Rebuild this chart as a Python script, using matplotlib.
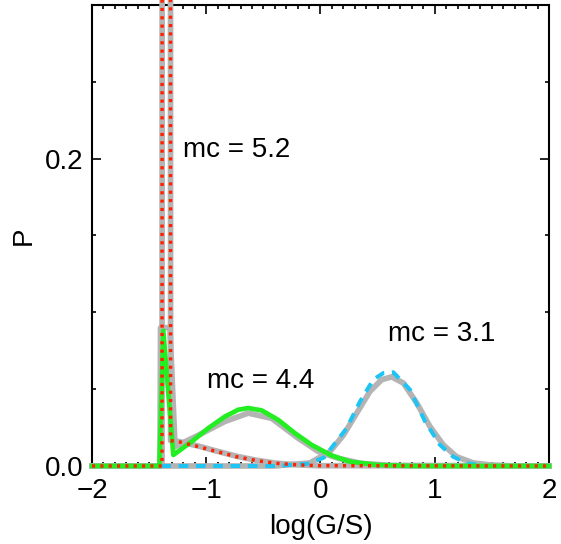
import matplotlib
matplotlib.use("Agg")
import matplotlib.pyplot as plt
from matplotlib.ticker import MultipleLocator, FormatStrFormatter

plt.rcParams['font.family'] = ['Liberation Sans', 'DejaVu Sans']

# model curves (gray)
gray52_x = [-2, -1.387, -1.386, -1.313, -1.312, -1.245, -1.07, -0.909, -0.733, -0.558, -0.398,
            -0.194, -0.02, 2]
gray52_y = [0, 0, 0.45, 0.45, 0.0165, 0.016, 0.013, 0.0097, 0.0063, 0.0037, 0.0019,
            0.0007, 0.0002, 0]

gray44_x = [-2, -1.405, -1.40, -1.318, -1.273, -1.07, -0.836, -0.632, -0.427, -0.194, -0.019,
            0.156, 0.35, 0.6, 2]
gray44_y = [0, 0, 0.09, 0.09, 0.0126, 0.020, 0.029, 0.0344, 0.031, 0.018, 0.0094,
            0.005, 0.0018, 0.0004, 0]

gray31_x = [-2, -0.4, -0.092, 0.083, 0.2, 0.317, 0.433, 0.536, 0.623, 0.725, 0.842, 0.958,
            1.075, 1.192, 1.337, 1.483, 1.7, 2]
gray31_y = [0, 0, 0.002, 0.0094, 0.020, 0.0344, 0.0486, 0.0562, 0.058, 0.054, 0.041, 0.0257,
            0.0137, 0.006, 0.002, 0.0007, 0, 0]

# data curves
green_x = [-2, -1.41, -1.376, -1.288, -1.127, -0.982, -0.836, -0.72, -0.632, -0.515, -0.37,
           -0.223, -0.077, 0.098, 0.258, 0.49, 0.8, 2]
green_y = [0, 0, 0.088, 0.0072, 0.0159, 0.0246, 0.0322, 0.0366, 0.0377, 0.0362, 0.030,
           0.0213, 0.0137, 0.0068, 0.0028, 0.0007, 0, 0]

cyan_x = [-2, -0.4, -0.1, 0.03, 0.083, 0.229, 0.346, 0.462, 0.55, 0.637, 0.783, 0.915,
          1.046, 1.162, 1.28, 1.45, 2]
cyan_y = [0, 0, 0.0015, 0.0055, 0.0105, 0.0246, 0.042, 0.0562, 0.0605, 0.061, 0.0497, 0.029,
          0.0137, 0.006, 0.0018, 0, 0]

red_x = [-2, -1.387, -1.386, -1.313, -1.312, -1.245, -1.07, -0.909, -0.733, -0.558, -0.398,
         -0.194, -0.02, 2]
red_y = [0, 0, 0.45, 0.45, 0.0165, 0.0159, 0.0126, 0.0094, 0.006, 0.0035, 0.0018,
         0.0007, 0.0002, 0]

labels = ['mc = 5.2', 'mc = 4.4', 'mc = 3.1']
label_x = [-1.203, -0.996, 0.591]
label_y = [0.2054, 0.0551, 0.0856]

fig = plt.figure(figsize=(5.61, 5.44), dpi=100)
ax = fig.add_axes([0.164, 0.1434, 0.8146, 0.8474])

gray = '#b4b4b4'
for gx, gy in [(gray52_x, gray52_y), (gray44_x, gray44_y), (gray31_x, gray31_y)]:
    ax.plot(gx, gy, color=gray, lw=4.1, clip_on=False)
ax.plot(cyan_x, cyan_y, color='#1ec4f4', lw=2.9, dashes=(2.4, 1.9), clip_on=False)
ax.plot(green_x, green_y, color='#22ee22', lw=3.4, clip_on=False)
ax.plot(red_x, red_y, color='#ff2200', lw=2.5, dashes=(0.9, 1.5), clip_on=False)

for t, tx, ty in zip(labels, label_x, label_y):
    ax.text(tx, ty, t, fontsize=20, ha='left', va='center')

ax.set_xlim(-2, 2)
ax.set_ylim(0, 0.3)
ax.xaxis.set_major_locator(MultipleLocator(1))
ax.xaxis.set_minor_locator(MultipleLocator(0.1))
ax.yaxis.set_major_locator(MultipleLocator(0.2))
ax.yaxis.set_minor_locator(MultipleLocator(0.05))
ax.yaxis.set_major_formatter(FormatStrFormatter('%.1f'))
ax.tick_params(which='both', direction='in', top=True, right=True, width=1.2, labelsize=20)
ax.tick_params(which='major', length=6.5)
ax.tick_params(which='minor', length=3)
ax.tick_params(axis='x', pad=9)
ax.tick_params(axis='y', pad=6)
for s in ax.spines.values():
    s.set_linewidth(1.5)
    s.set_zorder(0.5)

fig.canvas.draw()
ax.get_yticklabels()[0].set_va('bottom')

ax.set_xlabel('log(G/S)', fontsize=20, labelpad=7)
ax.set_ylabel('P', fontsize=20, labelpad=6)

fig.savefig('out.png', dpi=100)
